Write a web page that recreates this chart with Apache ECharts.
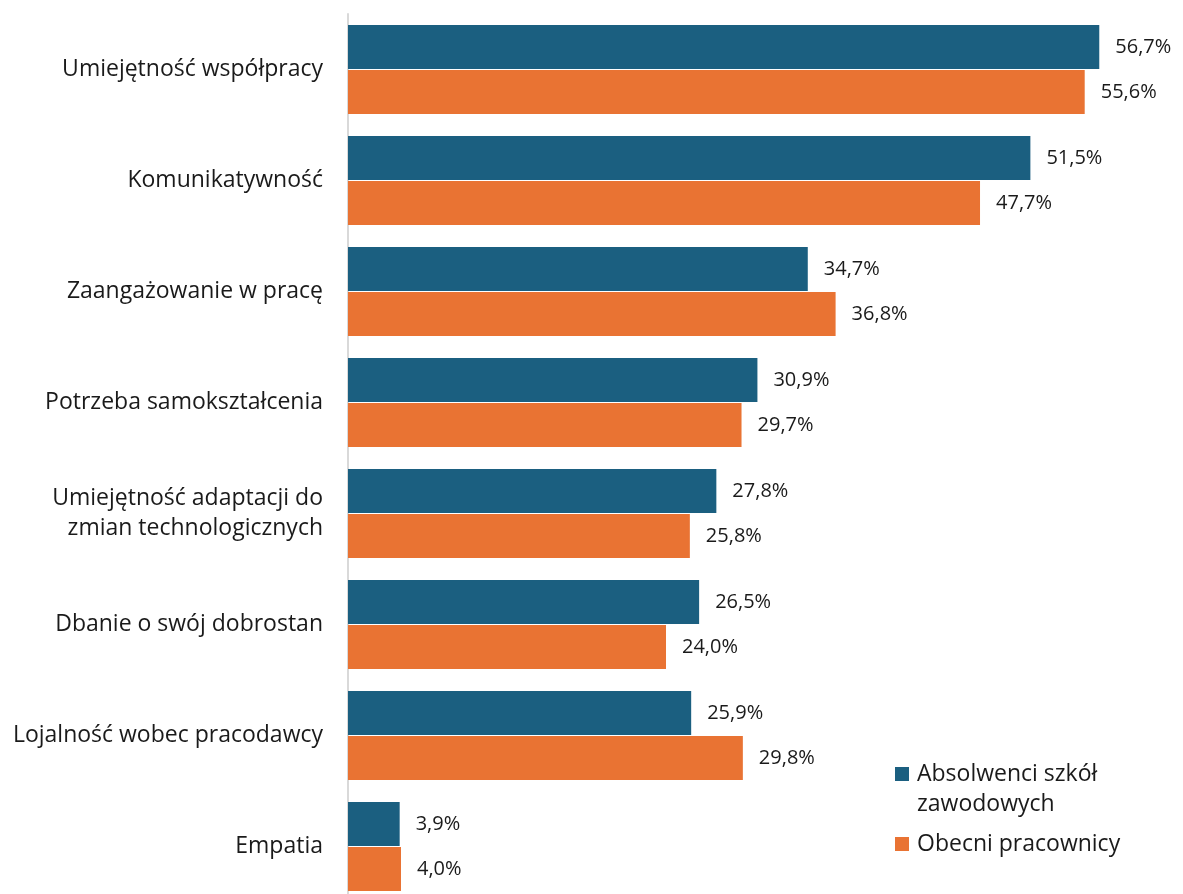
<!DOCTYPE html>
<html>
<head>
<meta charset="utf-8">
<script src="https://cdn.jsdelivr.net/npm/echarts@6/dist/echarts.min.js"></script>
<style>html,body{margin:0;padding:0;background:#fff;overflow:hidden}#c{width:1183px;height:903px}</style>
</head>
<body>
<div id="c"></div>
<script>
const categories = ['Umiejętność współpracy','Komunikatywność','Zaangażowanie w pracę','Potrzeba samokształcenia','Umiejętność adaptacji do\nzmian technologicznych','Dbanie o swój dobrostan','Lojalność wobec pracodawcy','Empatia'];
const seriesNames = ['Absolwenci szkół zawodowych','Obecni pracownicy'];
const absolwenci = [56.7, 51.5, 34.7, 30.9, 27.8, 26.5, 25.9, 3.9];
const pracownicy = [55.6, 47.7, 36.8, 29.7, 25.8, 24.0, 29.8, 4.0];

const FONT = 'Open Sans';
const TXT = '#1a1a1a';
const chart = echarts.init(document.getElementById('c'));
const label = {
  show: true, position: 'right', distance: 16,
  color: TXT, fontFamily: FONT, fontSize: 20,
  formatter: p => p.value.toFixed(1).replace('.', ',') + '%'
};
chart.setOption({
  animation: false,
  backgroundColor: '#fff',
  grid: { left: 348, top: 14, width: 795, height: 888 },
  xAxis: { type: 'value', min: 0, max: 60, show: false },
  yAxis: {
    type: 'category', data: categories, inverse: true,
    axisLine: { show: true, lineStyle: { color: '#d9d9d9', width: 2 } },
    axisTick: { show: false },
    axisLabel: { color: TXT, fontFamily: FONT, fontSize: 23, margin: 25, lineHeight: 30, align: 'right' }
  },
  legend: [
    { data: [seriesNames[0]], left: 895, top: 729, padding: 0, icon: 'rect', itemWidth: 14, itemHeight: 14,
      formatter: () => ' \nAbsolwenci szkół\nzawodowych',
      textStyle: { color: TXT, fontFamily: FONT, fontSize: 23, lineHeight: 30, padding: [0, 0, 0, 3] } },
    { data: [seriesNames[1]], left: 895, top: 829, padding: 0, icon: 'rect', itemWidth: 14, itemHeight: 14,
      textStyle: { color: TXT, fontFamily: FONT, fontSize: 23, lineHeight: 30, padding: [0, 0, 0, 3] } }
  ],
  series: [
    { name: seriesNames[0], type: 'bar', data: absolwenci, barWidth: 44, barGap: '2%', itemStyle: { color: '#1B5F80' }, label: label },
    { name: seriesNames[1], type: 'bar', data: pracownicy, barWidth: 44, barGap: '2%', itemStyle: { color: '#E97333' }, label: label }
  ]
});
</script>
</body>
</html>
